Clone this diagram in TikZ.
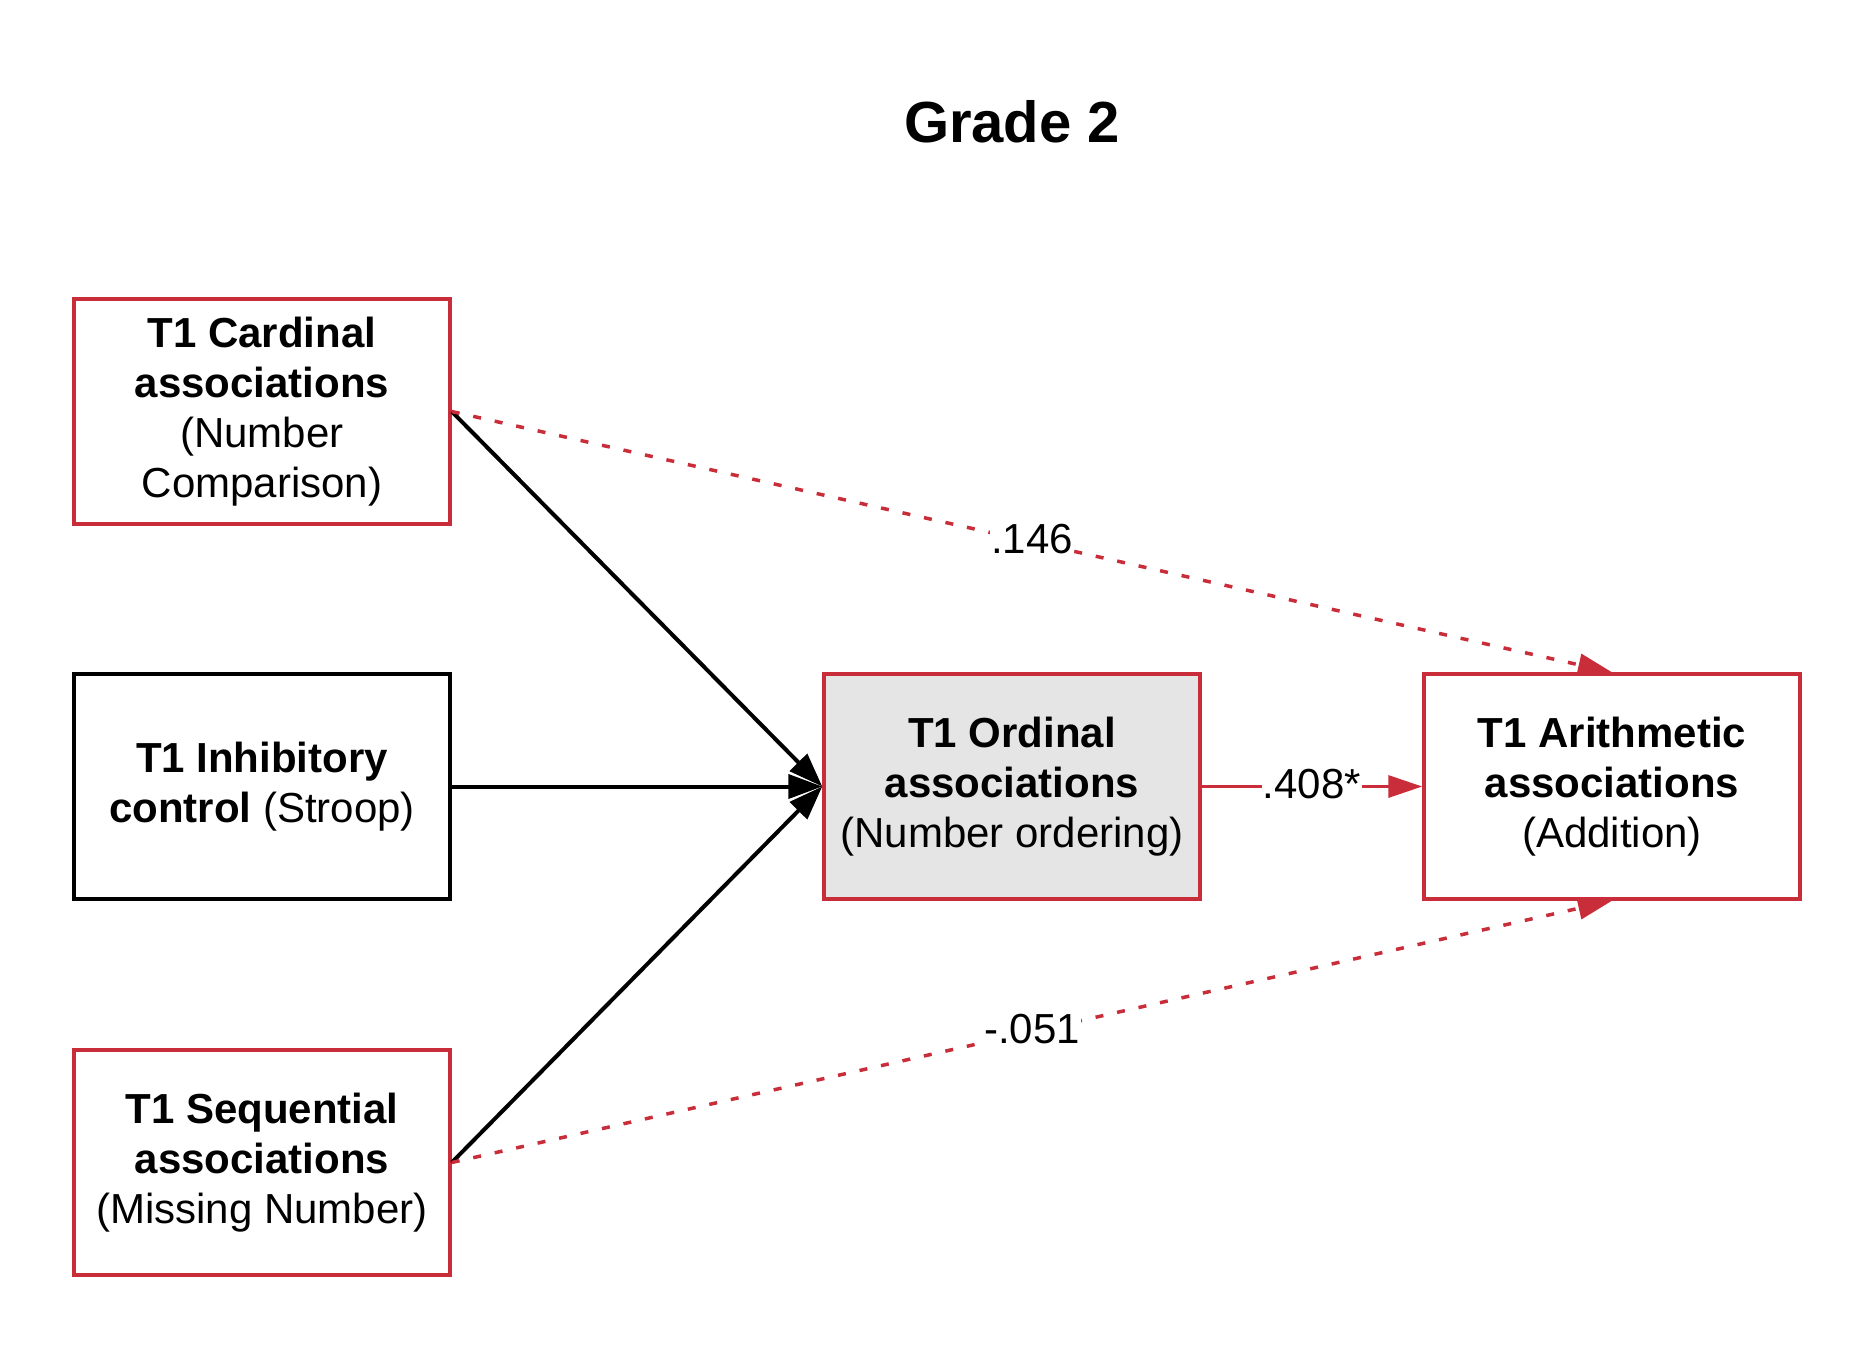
\documentclass[tikz,border=0pt]{standalone}
\usepackage{fontspec}
\setmainfont{Liberation Sans}
\usetikzlibrary{arrows.meta}
\definecolor{rd}{HTML}{C92D39}
\definecolor{gr}{HTML}{E5E5E5}
\begin{document}
\begin{tikzpicture}[x=1pt,y=-1pt,
  box/.style={draw=rd,line width=3.5pt,minimum width=376pt,minimum height=225pt,align=center,inner sep=0pt,font=\fontsize{42}{50}\selectfont},
  blackbox/.style={box,draw=black},
  blk/.style={line width=4pt,-{Triangle[length=34pt,width=24pt]}},
  rline/.style={draw=rd,line width=3.5pt,-{Triangle[length=34pt,width=22pt]}},
  rdash/.style={rline,dash pattern=on 8pt off 14pt},
  lbl/.style={fill=white,inner sep=1pt,font=\fontsize{42}{48}\selectfont,text=black}]
\useasboundingbox (0,0) rectangle (1875,1350);
\node[font=\fontsize{58}{70}\selectfont\bfseries] (title) at (1012,122) {Grade 2};
\node[box] (card) at (262,411.5) {\textbf{T1 Cardinal}\\\textbf{associations}\\(Number\\Comparison)};
\node[blackbox] (inh) at (262,786.5) {\textbf{T1 Inhibitory}\\\textbf{control} (Stroop)};
\node[box] (seq) at (262,1162.5) {\textbf{T1 Sequential}\\\textbf{associations}\\(Missing Number)};
\node[box,fill=gr] (ord) at (1012,786.5) {\textbf{T1 Ordinal}\\\textbf{associations}\\(Number ordering)};
\node[box] (ari) at (1612,786.5) {\textbf{T1 Arithmetic}\\\textbf{associations}\\(Addition)};
\draw[blk] (card.east) -- (ord.west);
\draw[blk] (inh.east) -- (ord.west);
\draw[blk] (seq.east) -- (ord.west);
\draw[rdash] (card.east) -- node[lbl,yshift=3pt] (l1) {.146} (ari.north);
\draw[rdash] (seq.east) -- node[lbl,yshift=3pt] (l2) {-.051} (ari.south);
\draw[rline] (ord.east) -- node[lbl,yshift=2pt] (l3) {.408*} (ari.west);
\end{tikzpicture}
\end{document}
